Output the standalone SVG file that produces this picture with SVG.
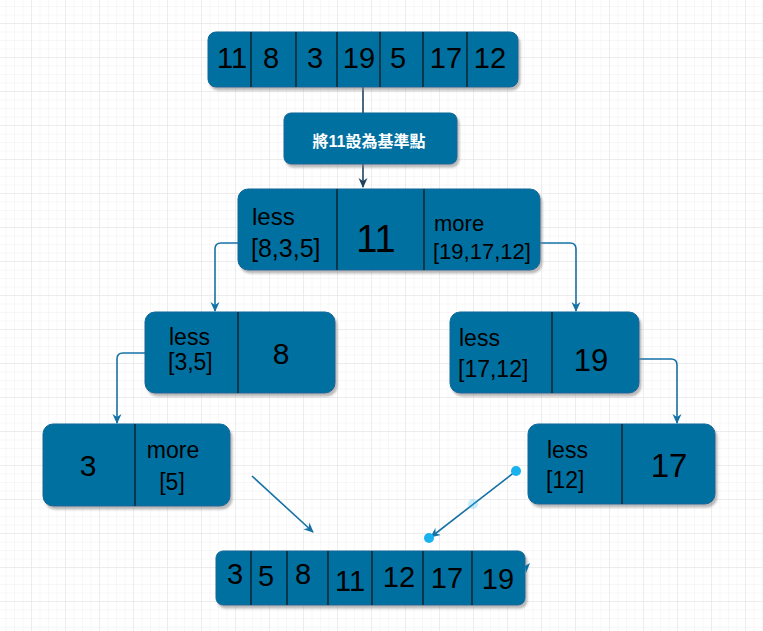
<svg xmlns="http://www.w3.org/2000/svg" width="763" height="631" viewBox="0 0 763 631">
<defs>
<pattern id="minor" x="31" y="23" width="8.5" height="8.5" patternUnits="userSpaceOnUse">
<path d="M0,0 H8.5 M0,0 V8.5" fill="none" stroke="#f0f0f0" stroke-width="1"/>
</pattern>
<pattern id="major" x="31" y="23" width="34" height="34" patternUnits="userSpaceOnUse">
<path d="M0,0 H34 M0,0 V34" fill="none" stroke="#e4e4e4" stroke-width="1"/>
</pattern>
<filter id="sh" x="-10%" y="-10%" width="130%" height="140%">
<feDropShadow dx="2" dy="3" stdDeviation="1.2" flood-color="#808080" flood-opacity="0.55"/>
</filter>
<marker id="arrB" viewBox="0 0 10 10" refX="9" refY="5" markerWidth="10" markerHeight="10" markerUnits="userSpaceOnUse" orient="auto">
<path d="M0,0.5 L10,5 L0,9.5 L3,5 z" fill="#1672a6"/>
</marker>
<marker id="arrD" viewBox="0 0 10 10" refX="9" refY="5" markerWidth="10" markerHeight="10" markerUnits="userSpaceOnUse" orient="auto">
<path d="M0,0.5 L10,5 L0,9.5 L3,5 z" fill="#22435f"/>
</marker>
</defs>
<style>
.node{fill:#0670a1;stroke:#0a6797;stroke-width:1;filter:url(#sh)}
.div{stroke:#111;stroke-width:1.2}
.t{font-family:"Liberation Sans",Arial,Helvetica,sans-serif;fill:#000}
.c{text-anchor:middle}
.conn{fill:none;stroke:#1672a6;stroke-width:1.6}
.dark{fill:none;stroke:#22435f;stroke-width:1.6}
.big{font-size:29px}
.lbl{font-size:23px}
</style>
<rect width="763" height="631" fill="#ffffff"/>
<rect width="763" height="631" fill="url(#minor)"/>
<rect width="763" height="631" fill="url(#major)"/>

<g id="connectors">
<path class="dark" d="M363,87 V113"/>
<path class="dark" d="M363,164 V187" marker-end="url(#arrD)"/>
<path class="conn" d="M238,243 H221 Q215,243 215,249 V311" marker-end="url(#arrB)"/>
<path class="conn" d="M540,243 H570 Q576,243 576,249 V311" marker-end="url(#arrB)"/>
<path class="conn" d="M639,359 H671 Q677,359 677,365 V423" marker-end="url(#arrB)"/>
<path class="conn" d="M145,353 H123 Q117,353 117,359 V423" marker-end="url(#arrB)"/>
<path class="conn" d="M252,476 L313,532" marker-end="url(#arrB)"/>
<path class="conn" d="M516,471 L431,537" marker-end="url(#arrB)"/>
<circle cx="473" cy="504" r="5" fill="#29b6f2" opacity="0.25"/>
<circle cx="516" cy="471" r="5" fill="#1ab1ef"/>
<circle cx="429" cy="538" r="5" fill="#1ab1ef"/>
</g>

<g id="top-array">
<rect class="node" x="208" y="32" width="310" height="55" rx="8"/>
<path class="div" d="M251,32 V87 M296,32 V87 M337,32 V87 M380,32 V87 M423,32 V87 M467,32 V87"/>
<g class="t c big">
<text x="232" y="68">11</text>
<text x="271" y="68">8</text>
<text x="315" y="68">3</text>
<text x="359" y="68">19</text>
<text x="398" y="68">5</text>
<text x="446" y="68">17</text>
<text x="490" y="68">12</text>
</g>
</g>

<g id="pivot-label">
<rect class="node" x="284" y="113" width="173" height="51" rx="7"/>
<text x="369" y="147" text-anchor="middle" font-family="'Liberation Sans','Noto Sans CJK TC',sans-serif" font-weight="bold" font-size="16" fill="#ffffff">將11設為基準點</text>
</g>

<g id="node-11">
<rect class="node" x="238" y="189" width="302" height="81" rx="10"/>
<path class="div" d="M337,189 V270 M424,189 V270"/>
<text class="t" x="252" y="225" font-size="24">less</text>
<text class="t" x="251" y="257" font-size="25">[8,3,5]</text>
<text class="t c" x="376" y="252" font-size="38">11</text>
<text class="t" x="434" y="231" font-size="22">more</text>
<text class="t" x="433" y="259" font-size="22">[19,17,12]</text>
</g>

<g id="node-8">
<rect class="node" x="145" y="312" width="190" height="81" rx="10"/>
<path class="div" d="M238,312 V393"/>
<text class="t lbl" x="169" y="345">less</text>
<text class="t lbl" x="168" y="370">[3,5]</text>
<text class="t c" x="281" y="364" font-size="30">8</text>
</g>

<g id="node-19">
<rect class="node" x="450" y="312" width="189" height="81" rx="10"/>
<path class="div" d="M552,312 V393"/>
<text class="t lbl" x="459" y="346">less</text>
<text class="t lbl" x="458" y="377">[17,12]</text>
<text class="t c" x="591" y="371" font-size="31">19</text>
</g>

<g id="node-17">
<rect class="node" x="528" y="424" width="187" height="80" rx="10"/>
<path class="div" d="M622,424 V504"/>
<text class="t lbl" x="547" y="458">less</text>
<text class="t lbl" x="546" y="488">[12]</text>
<text class="t c" x="669" y="477" font-size="33">17</text>
</g>

<g id="node-3">
<rect class="node" x="43" y="424" width="187" height="82" rx="10"/>
<path class="div" d="M135,424 V506"/>
<text class="t c" x="88" y="476" font-size="30">3</text>
<text class="t lbl c" x="173" y="458">more</text>
<text class="t lbl c" x="172" y="490">[5]</text>
</g>

<g id="sorted-array">
<rect class="node" x="216" y="551" width="309" height="54" rx="7"/>
<path d="M525,566 L530,563 L526,573 z" fill="#0670a1"/>
<path class="div" d="M251,551 V605 M287,551 V605 M328,551 V605 M372,551 V605 M423,551 V605 M472,551 V605"/>
<g class="t c big">
<text x="235" y="584">3</text>
<text x="266" y="586">5</text>
<text x="303" y="584">8</text>
<text x="350" y="591">11</text>
<text x="399" y="587">12</text>
<text x="447" y="588">17</text>
<text x="498" y="589">19</text>
</g>
</g>
</svg>
